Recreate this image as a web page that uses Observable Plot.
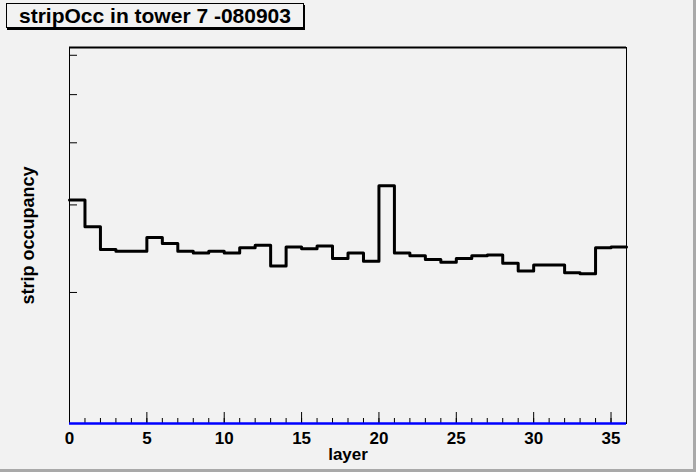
<!DOCTYPE html>
<html>
<head>
<meta charset="utf-8">
<script src="https://cdn.jsdelivr.net/npm/d3@7"></script>
<script src="https://cdn.jsdelivr.net/npm/@observablehq/plot@0.6"></script>
<style>
  html, body { margin: 0; padding: 0; background: #f2f2f2; }
  #wrap { position: relative; width: 696px; height: 472px; overflow: hidden; background: #f2f2f2;
          font-family: "Liberation Sans", Arial, Helvetica, sans-serif; }
  #wrap svg { position: absolute; left: 0; top: 0; }
  #title { position: absolute; left: 6px; top: 3px; width: 298px; height: 25px; box-sizing: border-box;
           border: 1px solid #000; box-shadow: 1px 2px 0 #000; background: #f2f2f2;
           font-weight: bold; font-size: 21px; line-height: 23px; text-align: center; color: #000; }
  #edgeR { position: absolute; left: 693px; top: 0; width: 3px; height: 472px; background: #a9a9a9; }
  #edgeB { position: absolute; left: 0; top: 469px; width: 696px; height: 3px; background: #a9a9a9; }
</style>
</head>
<body>
<div id="wrap">
  <div id="chart"></div>
  <div id="title">stripOcc in tower 7 -080903</div>
  <div id="edgeR"></div>
  <div id="edgeB"></div>
</div>
<script>
// layer index (bin lower edge) and strip occupancy (arbitrary units, log axis)
const layers = [0,1,2,3,4,5,6,7,8,9,10,11,12,13,14,15,16,17,18,19,20,21,22,23,24,25,26,27,28,29,30,31,32,33,34,35];
const occupancy = [3.07,2.71,2.44,2.42,2.42,2.58,2.51,2.42,2.40,2.42,2.40,2.46,2.49,2.26,2.47,2.45,2.48,2.34,2.40,2.31,
                   3.28,2.40,2.37,2.33,2.30,2.34,2.37,2.38,2.29,2.21,2.27,2.27,2.19,2.18,2.46,2.47];
const binWidth = 1;
const xDomain = [0, 36];
const yDomain = [1.09, 6.22];
const xMajorTicks = [0,5,10,15,20,25,30,35];
const xMinorTicks = d3.range(0, 37, 1);
const yTicks = [2,3,4,5,6];

const steps = layers.map((l, i) => ({x: l, y: occupancy[i]}));
steps.push({x: layers[layers.length - 1] + binWidth, y: occupancy[occupancy.length - 1]});

const font = {fontWeight: "bold"};

const chart = Plot.plot({
  width: 696,
  height: 472,
  marginLeft: 69,
  marginRight: 70,
  marginTop: 47,
  marginBottom: 49,
  style: {background: "#f2f2f2", color: "#000", fontFamily: "'Liberation Sans', Arial, Helvetica, sans-serif", overflow: "visible"},
  x: {domain: xDomain},
  y: {type: "log", domain: yDomain},
  marks: [
    Plot.frame({stroke: "#000", strokeWidth: 1}),
    Plot.ruleY([yDomain[1]], {stroke: "#000", strokeWidth: 2}),
    Plot.axisX(xMinorTicks, {tickSize: -5, tickFormat: () => "", label: null}),
    Plot.axisX(xMajorTicks, {tickSize: -11, tickFormat: () => "", label: null}),
    Plot.axisX(xMajorTicks, {tickSize: 0, tickPadding: 8, fontSize: 17, fontWeight: "bold", label: null}),
    Plot.axisY(yTicks, {tickSize: -8, tickFormat: () => "", label: null}),
    Plot.ruleY([yDomain[0]], {stroke: "#0000ff", strokeWidth: 2.5}),
    Plot.line(steps, {x: "x", y: "y", curve: "step-after", stroke: "#000", strokeWidth: 3}),
    Plot.text(["strip occupancy"], {frameAnchor: "left", dx: -41, rotate: -90, fontSize: 18, ...font, textAnchor: "middle"}),
    Plot.text(["layer"], {frameAnchor: "bottom", dy: 36, fontSize: 17, ...font})
  ]
});
document.getElementById("chart").appendChild(chart);
</script>
</body>
</html>
